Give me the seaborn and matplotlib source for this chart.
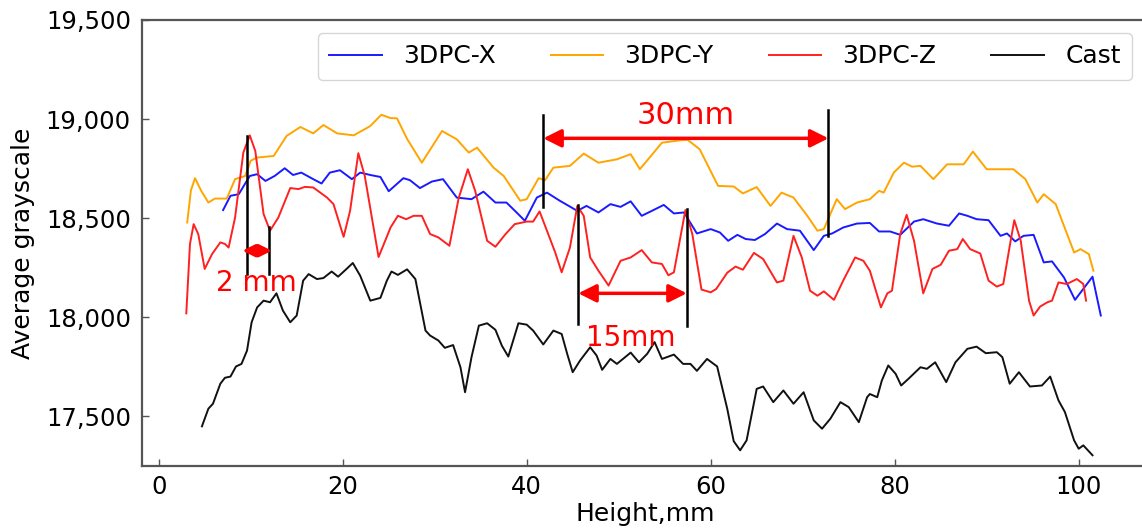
import pandas as pd
import numpy as np
import matplotlib
matplotlib.use('Agg')
import matplotlib.pyplot as plt
import seaborn as sns
from matplotlib.ticker import StrMethodFormatter

# --- values ---
x_pc_x = [7.0, 7.8, 8.7, 9.9, 10.7, 11.6, 12.6, 13.7, 14.6, 15.5, 16.8, 17.7, 18.6, 19.7, 21.0, 21.9,
          23.0, 24.1, 25.0, 26.6, 27.3, 28.4, 29.7, 30.9, 32.4, 34.0, 35.3, 36.6, 37.8, 38.9, 39.8,
          41.1, 42.2, 43.6, 45.5, 46.5, 47.8, 49.1, 50.2, 51.3, 52.5, 53.6, 54.9, 56.0, 57.1, 58.5,
          60.0, 61.0, 61.9, 62.9, 63.8, 64.8, 65.9, 67.2, 68.3, 69.7, 71.2, 72.3, 73.2, 74.4, 75.9,
          77.3, 78.3, 79.5, 80.6, 82.1, 83.1, 84.6, 85.9, 87.0, 87.9, 88.9, 90.2, 91.5, 92.2, 93.1,
          94.0, 95.1, 96.2, 97.1, 98.4, 99.6, 101.5, 102.4]
y_pc_x = [18541, 18613, 18621, 18713, 18722, 18688, 18713, 18752, 18718, 18730, 18697, 18675, 18730,
          18742, 18697, 18730, 18718, 18708, 18636, 18702, 18692, 18652, 18685, 18697, 18604, 18596,
          18634, 18579, 18579, 18529, 18487, 18604, 18629, 18588, 18537, 18562, 18529, 18571, 18557,
          18585, 18512, 18537, 18567, 18524, 18529, 18423, 18445, 18428, 18386, 18416, 18395, 18390,
          18420, 18473, 18445, 18437, 18339, 18411, 18423, 18453, 18473, 18476, 18433, 18433, 18416,
          18483, 18495, 18473, 18462, 18524, 18512, 18495, 18490, 18411, 18423, 18383, 18411, 18416,
          18277, 18282, 18201, 18088, 18205, 18009]

x_pc_y = [3.1, 3.5, 3.95, 4.6, 5.4, 6.1, 7.4, 8.3, 9.4, 10.0, 10.7, 12.5, 13.9, 15.4, 16.8, 17.9,
          19.4, 21.2, 23.0, 24.2, 25.2, 25.9, 27.0, 28.6, 30.8, 32.4, 33.7, 34.6, 36.4, 37.5, 39.3,
          40.0, 41.3, 42.0, 42.9, 44.7, 46.2, 47.8, 49.8, 51.3, 52.3, 54.7, 56.7, 57.5, 58.8, 60.8,
          62.5, 63.5, 65.0, 66.5, 67.7, 69.0, 70.5, 71.6, 72.3, 73.7, 74.6, 75.9, 77.3, 78.3, 78.8,
          79.9, 81.0, 81.9, 82.8, 84.2, 85.7, 87.5, 88.5, 90.0, 91.1, 92.9, 94.2, 95.5, 96.2, 97.5,
          99.5, 100.2, 101.1, 101.6]
y_pc_y = [18478, 18640, 18702, 18640, 18579, 18599, 18599, 18697, 18713, 18790, 18806, 18814, 18915,
          18960, 18928, 18970, 18928, 18918, 18965, 19022, 19005, 19004, 18900, 18780, 18940, 18898,
          18831, 18856, 18755, 18713, 18588, 18596, 18702, 18692, 18755, 18764, 18826, 18780, 18797,
          18823, 18747, 18881, 18893, 18895, 18848, 18663, 18660, 18625, 18657, 18562, 18629, 18604,
          18512, 18437, 18445, 18596, 18546, 18579, 18596, 18638, 18629, 18730, 18780, 18760, 18764,
          18697, 18772, 18772, 18836, 18747, 18747, 18747, 18697, 18579, 18621, 18571, 18327, 18344,
          18319, 18235]

x_pc_z = [3.0, 3.4, 3.8, 4.3, 5.0, 5.8, 6.7, 7.2, 7.6, 8.3, 9.2, 9.9, 10.5, 11.4, 12.1, 13.0, 14.3,
          15.2, 15.9, 16.8, 18.3, 19.0, 20.1, 20.8, 21.7, 22.4, 23.9, 25.2, 26.0, 26.9, 27.7, 28.6,
          29.5, 30.4, 31.6, 32.6, 33.6, 34.4, 35.7, 36.6, 37.7, 38.7, 40.0, 40.7, 41.4, 42.2, 43.1,
          43.8, 44.7, 45.5, 46.2, 46.9, 47.8, 48.9, 50.2, 51.3, 52.5, 53.6, 54.7, 55.4, 56.0, 57.25,
          58.0, 59.0, 60.0, 60.6, 61.8, 62.7, 63.5, 64.7, 65.7, 67.2, 67.9, 69.0, 69.9, 70.8, 71.6,
          72.3, 73.4, 74.4, 75.7, 76.6, 77.3, 78.5, 79.2, 79.7, 80.6, 81.3, 82.1, 83.1, 84.1, 85.0,
          85.9, 86.8, 87.4, 88.2, 89.3, 90.2, 91.1, 91.8, 92.6, 93.0, 93.7, 94.6, 95.1, 95.8, 96.6,
          97.1, 97.8, 98.7, 99.8, 100.5, 100.8]
y_pc_z = [18020, 18370, 18470, 18420, 18244, 18319, 18378, 18370, 18352, 18503, 18831, 18918, 18839,
          18521, 18437, 18503, 18652, 18647, 18658, 18655, 18604, 18571, 18406, 18537, 18828, 18713,
          18304, 18453, 18512, 18495, 18512, 18512, 18420, 18403, 18361, 18600, 18747, 18638, 18386,
          18356, 18420, 18470, 18483, 18483, 18534, 18437, 18327, 18227, 18352, 18562, 18512, 18302,
          18235, 18160, 18285, 18302, 18339, 18277, 18269, 18212, 18227, 18541, 18420, 18140, 18126,
          18143, 18225, 18256, 18240, 18325, 18294, 18176, 18185, 18411, 18302, 18134, 18109, 18131,
          18088, 18185, 18302, 18285, 18235, 18050, 18121, 18134, 18420, 18517, 18386, 18121, 18244,
          18265, 18336, 18344, 18395, 18344, 18322, 18185, 18155, 18168, 18386, 18490, 18386, 18084,
          18009, 18054, 18076, 18084, 18176, 18168, 18193, 18168, 18084]

x_cast = [4.7, 5.4, 5.9, 6.7, 7.2, 7.8, 8.4, 9.0, 9.6, 10.1, 10.7, 11.4, 12.1, 12.8, 13.5, 14.3, 15.0,
          15.7, 16.3, 17.2, 17.9, 18.8, 19.5, 20.3, 21.1, 21.9, 23.0, 24.1, 24.8, 25.3, 26.0, 27.0,
          27.9, 29.0, 29.5, 30.4, 31.1, 32.0, 32.8, 33.3, 34.0, 34.8, 35.7, 36.6, 37.3, 38.0, 39.1,
          40.0, 40.7, 41.8, 42.9, 43.8, 44.4, 45.0, 45.8, 46.9, 47.6, 48.2, 49.1, 49.8, 50.7, 51.3,
          52.2, 53.1, 53.9, 54.7, 56.0, 57.0, 57.8, 58.5, 59.6, 60.7, 61.8, 62.5, 63.2, 63.9, 65.0,
          65.7, 66.8, 67.9, 69.0, 70.1, 71.2, 72.1, 73.0, 74.1, 75.0, 76.1, 77.0, 77.3, 78.1, 78.6,
          79.3, 80.1, 80.7, 81.5, 82.8, 83.5, 84.4, 85.6, 86.6, 87.9, 88.9, 89.9, 91.1, 91.7, 92.5,
          93.5, 94.7, 96.0, 96.9, 97.8, 98.5, 99.5, 100.0, 100.5, 101.5]
y_cast = [17450, 17539, 17564, 17665, 17695, 17701, 17752, 17765, 17832, 17975, 18050, 18084, 18076,
          18121, 18034, 17975, 18009, 18185, 18218, 18193, 18198, 18231, 18205, 18239, 18274, 18210,
          18084, 18098, 18185, 18231, 18214, 18242, 18193, 17933, 17908, 17883, 17846, 17860, 17748,
          17622, 17799, 17958, 17970, 17937, 17857, 17802, 17970, 17963, 17933, 17863, 17933, 17916,
          17816, 17723, 17782, 17849, 17807, 17735, 17790, 17765, 17799, 17822, 17773, 17816, 17875,
          17790, 17812, 17765, 17765, 17730, 17790, 17752, 17538, 17375, 17329, 17379, 17639, 17651,
          17572, 17631, 17564, 17622, 17480, 17438, 17488, 17572, 17547, 17471, 17597, 17613, 17597,
          17681, 17757, 17715, 17656, 17690, 17748, 17740, 17773, 17673, 17773, 17841, 17852, 17819,
          17824, 17799, 17665, 17723, 17651, 17656, 17701, 17581, 17522, 17379, 17337, 17354, 17304]

series_names = ['3DPC-X', '3DPC-Y', '3DPC-Z', 'Cast']
series_colors = ['#1a1aff', '#ffa500', '#ff2020', '#111111']

# annotation marks: (x_left, x_right, arrow y, text, text x, text y, head size)
mark_2mm = [9.1, 12.3, 18336, '2 mm', 10.6, 18171, 12]
mark_15mm = [45.6, 57.4, 18121, '15mm', 51.3, 17898, 18]
mark_30mm = [41.8, 72.8, 18903, '30mm', 57.3, 19020, 18]
# black guide lines: (x, y bottom, y top)
guide_lines = [(9.6, 18218, 18915), (12.0, 18218, 18457),
               (45.6, 17967, 18567), (57.4, 17958, 18546),
               (41.8, 18554, 19020), (72.8, 18411, 19044)]

frames = []
for name, xs, ys in zip(series_names, [x_pc_x, x_pc_y, x_pc_z, x_cast],
                        [y_pc_x, y_pc_y, y_pc_z, y_cast]):
    frames.append(pd.DataFrame({'Height': xs, 'Gray': ys, 'Sample': name}))
df = pd.concat(frames, ignore_index=True)

plt.rcParams['font.family'] = ['DejaVu Sans']
fig = plt.figure(figsize=(11.42, 5.30), dpi=100)
ax = fig.add_axes([0.1243, 0.1208, 0.8807, 0.8415])

sns.lineplot(data=df, x='Height', y='Gray', hue='Sample', hue_order=series_names,
             palette=series_colors, estimator=None, sort=False, linewidth=1.4, ax=ax)

for x0, y0, y1 in guide_lines:
    ax.plot([x0, x0], [y0, y1], color='black', lw=1.8, zorder=5)

for x0, x1, ya, label, tx, ty, hs in [mark_2mm, mark_15mm, mark_30mm]:
    ax.annotate('', xy=(x1, ya), xytext=(x0, ya),
                arrowprops=dict(arrowstyle='<|-|>,head_length=0.6,head_width=0.3',
                                color='red', lw=2.5, mutation_scale=hs,
                                shrinkA=0, shrinkB=0), zorder=6)
    fs = 22 if label == '30mm' else 20
    ax.text(tx, ty, label, color='red', fontsize=fs, ha='center', va='center', zorder=6)

ax.set_xlim(-1.82, 107.5)
ax.set_ylim(17250, 19500)
ax.set_xticks([0, 20, 40, 60, 80, 100])
ax.set_yticks([17500, 18000, 18500, 19000, 19500])
ax.yaxis.set_major_formatter(StrMethodFormatter('{x:,.0f}'))
ax.tick_params(axis='both', direction='in', length=5, width=1, color='#555555', labelsize=17.5)
ax.tick_params(axis='x', pad=6.5)
ax.tick_params(axis='y', pad=8)
ax.set_xlabel('Height,mm', fontsize=18, labelpad=2)
ax.set_ylabel('Average grayscale', fontsize=18, labelpad=8)
for sp in ax.spines.values():
    sp.set_color('#555555')
    sp.set_linewidth(1.6)

handles, labels = ax.get_legend_handles_labels()
ax.legend(handles, labels, ncol=4, fontsize=18, loc='upper right',
          bbox_to_anchor=(0.9912, 0.9377), bbox_transform=fig.transFigure, borderaxespad=0,
          handlelength=2.1, handletextpad=0.85, columnspacing=2.2, borderpad=0.45,
          frameon=True, edgecolor='#cccccc')

fig.savefig('out.png', dpi=100)
